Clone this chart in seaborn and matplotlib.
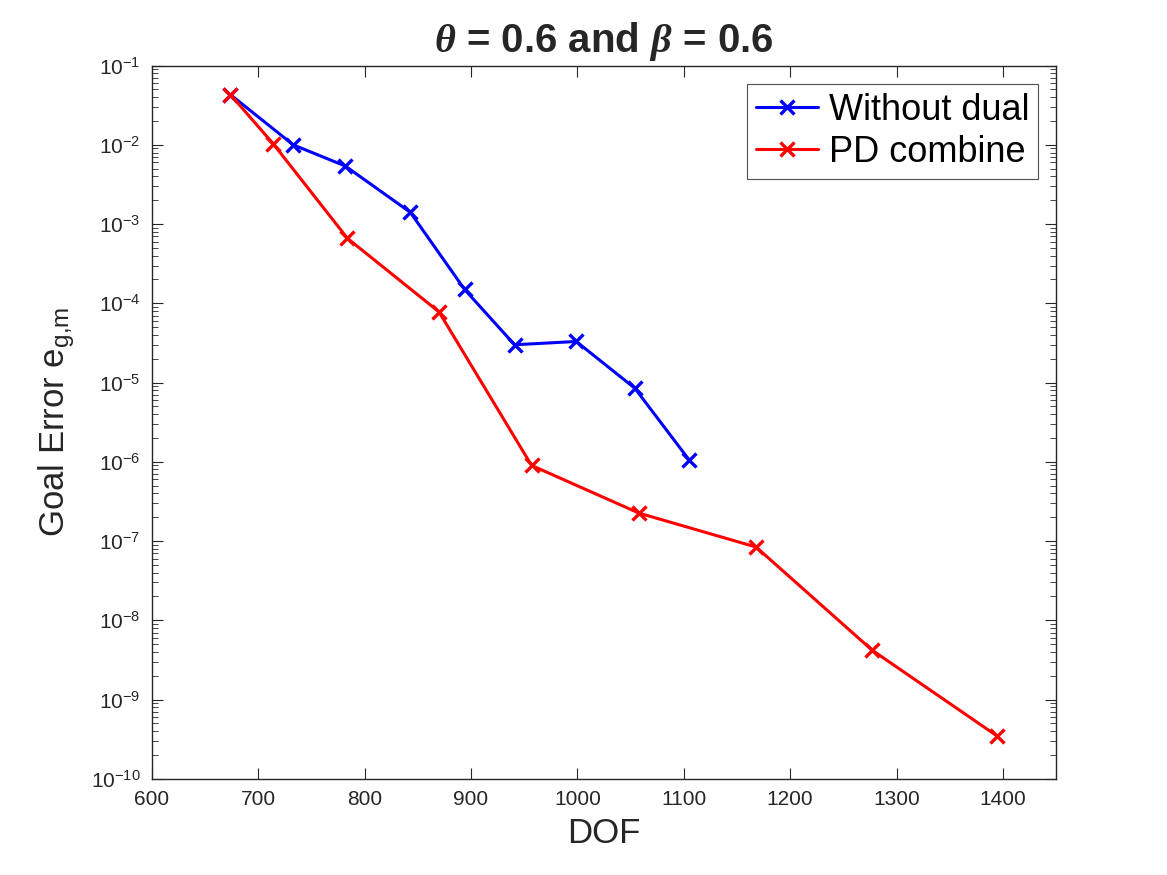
import numpy as np
import pandas as pd
import matplotlib
matplotlib.use('Agg')
import matplotlib.pyplot as plt
import matplotlib.ticker as mticker
import seaborn as sns

# values
dof_without = [674, 733, 782, 843, 894, 941, 999, 1054, 1105]
err_without = [4.3e-2, 1.0e-2, 5.4e-3, 1.41e-3, 1.5e-4, 3.0e-5, 3.3e-5, 8.5e-6, 1.06e-6]
dof_pd = [674, 714, 784, 870, 957, 1058, 1168, 1277, 1394]
err_pd = [4.3e-2, 1.04e-2, 6.6e-4, 7.8e-5, 9.0e-7, 2.25e-7, 8.4e-8, 4.2e-9, 3.5e-10]

sns.set_style('ticks')
plt.rcParams['font.family'] = ['Liberation Sans', 'DejaVu Sans']
plt.rcParams['mathtext.fontset'] = 'custom'
plt.rcParams['mathtext.rm'] = 'Liberation Sans'
plt.rcParams['mathtext.it'] = 'Liberation Serif:italic:bold'
plt.rcParams['mathtext.bf'] = 'Liberation Sans:bold'
plt.rcParams['axes.unicode_minus'] = False

df_without = pd.DataFrame({'DOF': dof_without, 'err': err_without})
df_pd = pd.DataFrame({'DOF': dof_pd, 'err': err_pd})

fig = plt.figure(figsize=(11.67, 8.75), dpi=100)
ax = fig.add_axes([0.130, 0.110, 0.775, 0.815])

sns.lineplot(data=df_without, x='DOF', y='err', color='#0000ff', marker='x',
             markersize=9.5, markeredgewidth=2.4, markeredgecolor='#0000ff',
             linewidth=2.2, sort=False, label='Without dual', ax=ax)
sns.lineplot(data=df_pd, x='DOF', y='err', color='#ff0000', marker='x',
             markersize=9.5, markeredgewidth=2.4, markeredgecolor='#ff0000',
             linewidth=2.2, sort=False, label='PD combine', ax=ax)

ax.set_yscale('log')
ax.set_xlim(600, 1450)
ax.set_ylim(1e-10, 1e-1)
ax.set_xticks(np.arange(600, 1401, 100))
ax.yaxis.set_major_locator(mticker.LogLocator(base=10, numticks=20))
ax.yaxis.set_minor_locator(mticker.LogLocator(base=10, subs=np.arange(2, 10), numticks=20))
ax.yaxis.set_minor_formatter(mticker.NullFormatter())

for s in ax.spines.values():
    s.set_color('#262626')
    s.set_linewidth(1.0)
ax.tick_params(axis='both', which='major', direction='in', length=8, width=0.8,
               colors='#262626', labelsize=15, top=True, right=True, pad=8)
ax.tick_params(axis='y', which='minor', direction='in', length=4, width=0.6,
               colors='#262626', right=True)
for lab in ax.get_xticklabels() + ax.get_yticklabels():
    lab.set_color('#262626')

ax.set_xlabel('DOF', fontsize=25, labelpad=6, color='#262626')
ax.set_ylabel(r'Goal Error $\mathregular{e_{g{,}m}}$', fontsize=25, labelpad=10,
              color='#262626')
ax.set_title(r'$\theta$ = 0.6 and $\beta$ = 0.6', fontsize=29, fontweight='bold', pad=10)

leg = ax.legend(loc='upper right', fontsize=26, frameon=True, fancybox=False,
                edgecolor='#262626', handlelength=1.7, borderpad=0.25,
                labelspacing=0.2, handletextpad=0.3, borderaxespad=0.5)
leg.get_frame().set_linewidth(0.8)
for t in leg.get_texts():
    t.set_color('black')

fig.savefig('out.png', dpi=100)
